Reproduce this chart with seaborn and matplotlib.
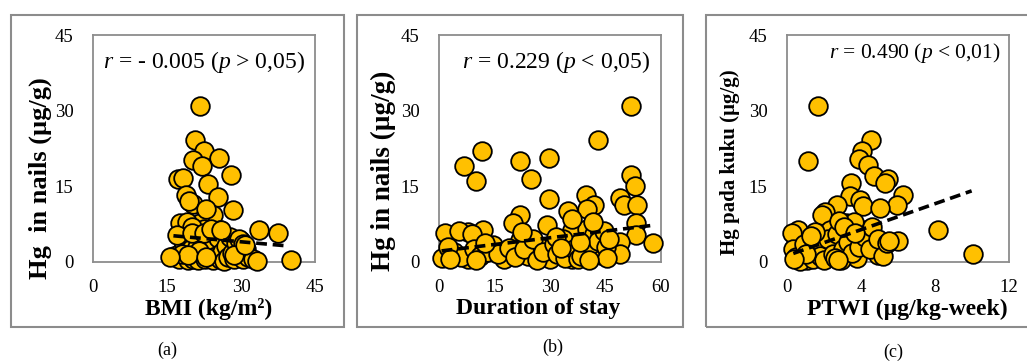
import matplotlib
matplotlib.use("Agg")
import matplotlib.pyplot as plt
import seaborn as sns
from matplotlib.patches import Rectangle

sns.set_style("white")
plt.rcParams['font.family'] = ['Liberation Serif', 'DejaVu Serif']
plt.rcParams['mathtext.fontset'] = 'custom'
plt.rcParams['mathtext.rm'] = 'Liberation Serif'
plt.rcParams['mathtext.it'] = 'Liberation Serif:italic'

# data

# (a) BMI vs Hg in nails
bmi = [21.6, 20.7, 22.6, 25.6, 20.3, 22.0, 28.0, 17.3, 18.3, 23.4, 18.9, 25.3,
       20.3, 28.3, 24.4, 21.7, 17.6, 25.8, 33.7, 37.4, 40.2, 19.5, 23.0, 19.0,
       22.5, 24.5, 20.0,
       16.5, 17.5, 17.8, 18.2, 18.5, 19.0, 19.2, 19.5, 19.8, 20.3, 20.5, 21.0,
       21.3, 21.8, 22.0, 22.4, 22.8, 23.2, 23.5, 23.8, 24.3, 24.6, 25.0, 25.4,
       25.8, 26.2, 26.6, 27.0, 27.4, 27.8, 28.2, 28.6, 29.0, 29.5, 30.0, 30.5,
       31.0, 31.5, 32.5, 17.0, 18.0, 20.0, 22.5, 24.0, 26.0, 29.5, 30.5, 21.5,
       19.3, 23.0, 15.6, 33.2, 28.5, 30.8]
hg_a = [31.0, 24.2, 22.1, 20.6, 20.2, 19.0, 17.3, 16.4, 16.6, 15.5, 13.3, 12.8,
        11.5, 10.3, 9.3, 7.7, 7.7, 6.3, 6.4, 5.7, 0.3, 12.0, 10.5, 8.0,
        6.5, 6.0, 7.0,
        1.2, 0.5, 2.0, 5.0, 3.5, 1.0, 0.3, 4.5, 2.5, 0.6, 1.8, 3.0,
        0.4, 5.0, 1.5, 2.8, 0.5, 4.0, 1.0, 2.3, 0.3, 3.5, 1.2, 4.8,
        0.6, 2.0, 0.2, 3.2, 1.0, 5.0, 1.8, 0.5, 3.8, 1.2, 4.2, 0.6,
        2.5, 1.0, 0.5, 5.3, 1.5, 5.8, 5.8, 6.5, 6.3, 4.5, 3.5, 2.2,
        1.3, 0.9, 1.05, 0.2, 1.3, 3.3]
trend_a_x = [16.3, 39.3]
trend_a_y = [5.2, 3.2]

# (b) duration of stay vs Hg in nails
stay = [51.9, 42.9, 11.7, 6.8, 21.9, 29.8, 9.9, 24.9, 51.9, 53.0, 29.8, 39.7,
        42.0, 39.9, 48.9, 50.1, 53.4, 34.8, 21.9, 19.9, 29.1, 53.2, 1.6, 7.8,
        11.8, 35.9, 53.2, 57.9, 48.9, 48.9, 43.8, 0.7, 7.9, 14.7, 21.9, 17.6,
        24.0, 30.0, 35.9, 27.0,
        5.5, 9.0, 4.0, 6.0, 9.5, 11.0, 13.0, 16.0, 19.0, 20.5, 23.0, 25.5,
        26.5, 28.0, 31.0, 32.0, 33.5, 34.0, 36.5, 37.5, 38.5, 40.0, 41.0, 42.0,
        43.0, 44.5, 45.0, 45.5, 40.5, 38.0, 36.0, 41.5, 12.5, 2.5, 3.0, 10.0,
        22.5, 31.5, 46.0, 33.0]
hg_b = [31.0, 24.1, 22.0, 19.0, 20.1, 20.6, 16.1, 16.4, 17.3, 15.1, 12.4, 13.3,
        11.3, 10.6, 12.6, 11.3, 11.3, 10.2, 9.3, 7.7, 7.3, 7.7, 5.7, 6.0,
        6.3, 6.3, 5.4, 3.8, 4.0, 1.5, 1.4, 0.7, 0.6, 3.4, 4.4, 0.6,
        1.1, 0.6, 0.6, 3.0,
        6.2, 5.5, 2.0, 1.0, 2.5, 1.2, 2.0, 1.5, 2.8, 1.0, 2.5, 4.5,
        0.3, 2.0, 3.5, 1.5, 4.5, 0.8, 2.5, 0.5, 1.2, 6.5, 3.5, 5.5,
        4.2, 6.2, 3.0, 0.7, 0.4, 4.0, 8.5, 8.0, 3.8, 3.0, 0.5, 0.3,
        6.0, 5.0, 4.5, 2.8]
trend_b_x = [0.7, 58.1]
trend_b_y = [2.2, 7.3]

# (c) PTWI vs Hg in nails
ptwi = [1.69, 1.12, 4.52, 4.04, 3.89, 4.4, 4.70, 5.48, 5.3, 3.46, 6.29, 3.4,
        3.95, 4.1, 2.69, 5.93, 5.03, 2.05, 1.9, 8.18, 10.07, 6.0, 3.19, 2.32,
        0.61, 0.25, 1.39, 4.27, 4.94, 3.77, 2.9, 1.06, 2.3,
        0.3, 0.5, 0.7, 0.9, 1.2, 1.4, 1.6, 1.8, 2.0, 2.2, 2.5, 2.7,
        3.0, 3.3, 3.5, 3.6, 3.9, 4.2, 4.5, 4.6, 4.9, 5.2, 5.4, 1.5,
        2.8, 3.1, 1.0, 0.4, 2.6, 1.3, 3.7, 5.5, 2.76]
hg_c = [31.0, 20.1, 24.1, 22.0, 20.4, 19.2, 17.1, 16.4, 15.6, 15.6, 13.3, 13.0,
        12.3, 11.2, 11.3, 11.3, 10.8, 10.0, 9.3, 6.3, 1.6, 4.2, 7.7, 6.3,
        6.3, 5.7, 4.7, 6.3, 1.4, 0.7, 0.3, 0.4, 3.4,
        2.5, 1.0, 0.2, 3.5, 1.8, 0.6, 2.8, 1.2, 0.3, 4.5, 1.5, 5.5,
        2.5, 4.0, 1.8, 8.0, 3.0, 5.0, 2.5, 7.0, 4.5, 1.2, 3.8, 6.0,
        8.2, 7.0, 1.5, 0.5, 0.8, 5.2, 5.8, 4.2, 0.4]
trend_c_x = [0.34, 9.98]
trend_c_y = [1.7, 14.1]

panels = [
    dict(x=bmi, y=hg_a, tx=trend_a_x, ty=trend_a_y, xticks=[0, 15, 30, 45],
         xlabel="BMI (kg/m²)", ylabel="Hg  in nails (µg/g)",
         note="$\\mathit{r}$ = - 0.005 ($\\mathit{p}$ > 0,05)", note_xy=(0.5, 0.88),
         note_size=17, ylab_size=19, ylab_xy=(-0.185, 0.37), left=93,
         xlab_x=0.52, cap="(a)", cap_xy=(167, 350), box=(11, 344)),
    dict(x=stay, y=hg_b, tx=trend_b_x, ty=trend_b_y, xticks=[0, 15, 30, 45, 60],
         xlabel="Duration of stay", ylabel="Hg in nails (µg/g)",
         note="$\\mathit{r}$ = 0.229 ($\\mathit{p}$ < 0,05)", note_xy=(0.527, 0.88),
         note_size=17, ylab_size=19.5, ylab_xy=(-0.194, 0.40), left=439,
         xlab_x=0.446, cap="(b)", cap_xy=(553, 347), box=(357, 683)),
    dict(x=ptwi, y=hg_c, tx=trend_c_x, ty=trend_c_y, xticks=[0, 4, 8, 12],
         xlabel="PTWI (µg/kg-week)", ylabel="Hg pada kuku (µg/g)",
         note="$\\mathit{r}$ = 0.490 ($\\mathit{p}$ < 0,01)", note_xy=(0.575, 0.92),
         note_size=15.5, ylab_size=15, ylab_xy=(-0.21, 0.44), left=787,
         xlab_x=0.543, cap="(c)", cap_xy=(893, 352), box=(706, 1040)),
]

W, H = 1027, 362
fig = plt.figure(figsize=(W / 100, H / 100), dpi=100)
grey = "#8C8C8C"

for p in panels:
    # outer frame of each panel
    x0, x1 = p["box"]
    fig.patches.append(Rectangle((x0 / W, (H - 327) / H), (x1 - x0) / W, 312 / H,
                                 transform=fig.transFigure, fill=False,
                                 edgecolor=grey, linewidth=1.5))

    ax = fig.add_axes([p["left"] / W, (H - 262) / H, 222 / W, 227 / H])
    sns.scatterplot(x=p["x"], y=p["y"], ax=ax, s=180, color="#FFC000",
                    edgecolor="black", linewidth=1.3, clip_on=False, zorder=3)
    sns.lineplot(x=p["tx"], y=p["ty"], ax=ax, color="black", linewidth=2.6,
                 linestyle=(0, (3, 1.6)), zorder=4)

    ax.set_xlim(p["xticks"][0], p["xticks"][-1])
    ax.set_ylim(0, 45)
    ax.set_xticks(p["xticks"])
    ax.set_yticks([0, 15, 30, 45])
    ax.tick_params(axis="both", direction="out", length=4, color=grey,
                   labelsize=13.5, labelcolor="black")
    ax.tick_params(axis="y", pad=10)
    ax.tick_params(axis="x", pad=8.5)
    for s in ax.spines.values():
        s.set_color(grey)
        s.set_linewidth(1.3)

    ax.set_xlabel(p["xlabel"], fontsize=17, fontweight="bold", color="black")
    ax.set_ylabel(p["ylabel"], fontsize=p["ylab_size"], fontweight="bold",
                  color="black")
    ax.xaxis.set_label_coords(p["xlab_x"], -0.16)
    ax.yaxis.set_label_coords(*p["ylab_xy"])

    ax.text(p["note_xy"][0], p["note_xy"][1], p["note"], transform=ax.transAxes,
            ha="center", va="center", fontsize=p["note_size"], color="black")

    fig.text(p["cap_xy"][0] / W, (H - p["cap_xy"][1]) / H, p["cap"],
             ha="center", va="center", fontsize=13, color="black")

plt.savefig("out.png", dpi=100)
